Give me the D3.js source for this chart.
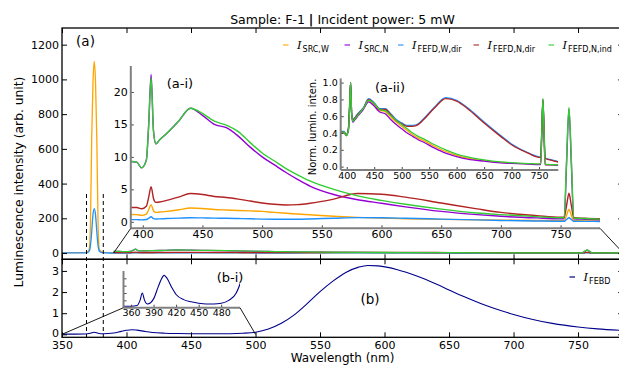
<!DOCTYPE html>
<html><head><meta charset="utf-8">
<script src="https://cdn.jsdelivr.net/npm/d3@7"></script>
<style>
body{margin:0;background:#fff}
text{font-family:"DejaVu Sans",sans-serif;fill:#000}
</style>
</head><body>
<svg id="c" width="619" height="366"></svg>
<script>
// ---------------- DATA ----------------
// laser region (350-390 nm), panel (a)
const laserWl      = [350, 360, 366, 369, 371, 372, 373, 374, 375, 376, 377, 378, 379, 381, 384, 388];
const laserSrcW    = [2, 2, 2.5, 4, 20, 150, 650, 980, 1104, 980, 650, 150, 20, 5, 2, 1.2];
const laserFefdW   = [0.5, 0.5, 0.6, 1.5, 10, 40, 120, 220, 256, 220, 120, 40, 10, 2, 0.6, 0.35];

// 390-785 nm region (arb. unit), panels (a) and (a-i)
const wlA = [390, 395, 399, 403, 405, 407, 409, 411, 414, 420, 430, 440, 450, 460, 470, 480, 490, 500, 510, 520, 530, 540, 560, 580, 600, 620, 650, 680, 700, 730, 750, 753, 755, 757, 759, 761, 770, 785];
const srcW     = [1.13, 1.1, 1.0, 1.2, 1.9, 2.65, 1.7, 1.45, 1.5, 1.6, 1.85, 2.12, 2.05, 1.9, 1.82, 1.75, 1.68, 1.6, 1.45, 1.32, 1.2, 1.08, 0.85, 0.68, 0.56, 0.48, 0.38, 0.3, 0.26, 0.21, 0.19, 0.19, 1.0, 1.9, 1.0, 0.17, 0.15, 0.12];
const srcN     = [9.3, 9.2, 8.3, 9.5, 15, 22.7, 14, 12.0, 12.6, 13.6, 15.5, 17.5, 16.4, 15.0, 14.5, 13.2, 11.5, 10.0, 8.8, 7.6, 6.5, 5.5, 4.2, 3.4, 2.85, 2.3, 1.6, 1.1, 0.85, 0.6, 0.48, 0.48, 9, 17.4, 9, 0.45, 0.4, 0.3];
const fefdWDir = [0.33, 0.33, 0.30, 0.36, 0.55, 0.78, 0.5, 0.44, 0.45, 0.5, 0.56, 0.63, 0.6, 0.56, 0.55, 0.51, 0.46, 0.42, 0.4, 0.39, 0.4, 0.44, 0.55, 0.64, 0.62, 0.55, 0.42, 0.29, 0.21, 0.13, 0.09, 0.09, 0.35, 0.62, 0.35, 0.08, 0.07, 0.05];
const fefdNDir = [2.2, 2.2, 2.0, 2.4, 3.8, 5.4, 3.6, 3.0, 3.05, 3.3, 3.8, 4.35, 4.2, 3.9, 3.75, 3.5, 3.2, 2.9, 2.7, 2.6, 2.65, 2.85, 3.5, 4.35, 4.25, 3.8, 2.9, 2.0, 1.45, 0.95, 0.7, 0.7, 2.5, 4.4, 2.5, 0.65, 0.55, 0.45];
const fefdNInd = [9.3, 9.2, 8.3, 9.5, 15, 22.2, 14, 12.0, 12.6, 13.6, 15.5, 17.5, 16.7, 15.5, 14.9, 13.9, 12.2, 10.6, 9.4, 8.2, 7.2, 6.3, 5.0, 4.0, 3.3, 2.7, 1.95, 1.35, 1.1, 0.8, 0.62, 0.62, 9.5, 17.6, 9.5, 0.58, 0.5, 0.4];

// normalized spectra, panel (a-ii)
const nSrcW     = [0.42, 0.41, 0.38, 0.44, 0.68, 1.0, 0.62, 0.55, 0.56, 0.61, 0.69, 0.785, 0.74, 0.67, 0.655, 0.59, 0.53, 0.48, 0.43, 0.38, 0.34, 0.31, 0.24, 0.18, 0.135, 0.1, 0.072, 0.05, 0.042, 0.034, 0.03, 0.03, 0.4, 0.78, 0.4, 0.025, 0.022, 0.018];
const nSrcN     = [0.41, 0.41, 0.37, 0.43, 0.66, 1.0, 0.62, 0.53, 0.55, 0.60, 0.68, 0.77, 0.72, 0.65, 0.63, 0.56, 0.50, 0.45, 0.40, 0.36, 0.32, 0.29, 0.22, 0.16, 0.12, 0.09, 0.065, 0.045, 0.038, 0.03, 0.025, 0.025, 0.4, 0.78, 0.4, 0.02, 0.02, 0.015];
const nFefdWDir = [0.42, 0.42, 0.38, 0.46, 0.7, 1.0, 0.62, 0.56, 0.58, 0.63, 0.70, 0.81, 0.76, 0.69, 0.69, 0.63, 0.56, 0.52, 0.49, 0.49, 0.51, 0.57, 0.71, 0.82, 0.79, 0.70, 0.53, 0.37, 0.27, 0.165, 0.115, 0.11, 0.45, 0.80, 0.45, 0.1, 0.085, 0.06];
const nFefdNDir = [0.41, 0.41, 0.37, 0.45, 0.7, 1.0, 0.62, 0.55, 0.57, 0.62, 0.69, 0.80, 0.75, 0.68, 0.68, 0.62, 0.55, 0.51, 0.48, 0.48, 0.5, 0.56, 0.70, 0.81, 0.78, 0.69, 0.52, 0.36, 0.26, 0.16, 0.11, 0.11, 0.45, 0.80, 0.45, 0.1, 0.08, 0.055];
const nFefdNInd = [0.41, 0.41, 0.37, 0.43, 0.66, 1.0, 0.62, 0.54, 0.56, 0.61, 0.69, 0.79, 0.75, 0.68, 0.665, 0.61, 0.55, 0.50, 0.45, 0.40, 0.36, 0.33, 0.26, 0.2, 0.15, 0.115, 0.08, 0.056, 0.047, 0.037, 0.032, 0.032, 0.42, 0.81, 0.42, 0.028, 0.025, 0.02];

// panel (b)
const wlB  = [350, 360, 368, 372, 375, 378, 382, 390, 396, 400, 404, 408, 414, 420, 430, 440, 450, 460, 470, 480, 490, 500, 510, 520, 530, 540, 550, 560, 570, 580, 587, 595, 610, 625, 640, 650, 660, 675, 690, 700, 715, 730, 750, 765, 785];
const febd = [0.01, 0.01, 0.015, 0.05, 0.1, 0.05, 0.025, 0.06, 0.14, 0.19, 0.22, 0.2, 0.14, 0.09, 0.055, 0.04, 0.03, 0.025, 0.025, 0.03, 0.05, 0.1, 0.25, 0.52, 0.92, 1.45, 2.02, 2.52, 2.93, 3.18, 3.26, 3.24, 3.06, 2.76, 2.38, 2.1, 1.82, 1.45, 1.13, 0.94, 0.7, 0.52, 0.35, 0.26, 0.18];

const seriesNames  = ["SRC,W", "SRC,N", "FEFD,W,dir", "FEFD,N,dir", "FEFD,N,ind"];
const seriesColors = ["#FFA500", "#9400D3", "#1E90FF", "#B22222", "#32CD32"];
const xTicksMain = [350, 400, 450, 500, 550, 600, 650, 700, 750];
const yTicksA = [0, 200, 400, 600, 800, 1000, 1200];
const yTicksB = [0, 1, 2, 3];
const xTicksAi = [400, 450, 500, 550, 600, 650, 700, 750];
const yTicksAi = [0, 5, 10, 15, 20];
const xTicksAii = [400, 450, 500, 550, 600, 650, 700, 750];
const yTicksAii = [0, 0.2, 0.4, 0.6, 0.8, 1.0];
const xTicksBi = [360, 390, 420, 450, 480];
const yTicksBi = [0.05, 0.1, 0.15, 0.2];
const dashedWl = [369, 382];

// ---------------- DRAW ----------------
const svg = d3.select("#c");
const X0 = 62, X1 = 623.2;
const x = d3.scaleLinear().domain([350, 785]).range([X0, X1]);
const ya = d3.scaleLinear().domain([-36, 1296]).range([259.3, 28]);
const yb = d3.scaleLinear().domain([-0.14, 3.55]).range([337.3, 259.3]);
const fmtInt = d3.format("d");

const defs = svg.append("defs");
function clip(id, x0, y0, w, h){ defs.append("clipPath").attr("id", id).append("rect").attr("x",x0).attr("y",y0).attr("width",w).attr("height",h); }
clip("ca", X0, 28, X1-X0, 259.3-28);
clip("cb", X0, 259.3, X1-X0, 337.3-259.3);

const aSeries = [srcW, srcN, fefdWDir, fefdNDir, fefdNInd];
const nSeries = [nSrcW, nSrcN, nFefdWDir, nFefdNDir, nFefdNInd];

function lineGen(xs, ys){ return d3.line().x(d=>xs(d[0])).y(d=>ys(d[1])).curve(d3.curveMonotoneX); }
function pairs(w, v){ return w.map((d,i)=>[d, v[i]]); }

// panel a lines
const ga = svg.append("g").attr("clip-path","url(#ca)");
const la = lineGen(x, ya);
aSeries.forEach((s,i)=>{
  let pts = pairs(wlA, s);
  if(i===0) pts = pairs(laserWl, laserSrcW).concat(pts);
  if(i===2) pts = pairs(laserWl, laserFefdW).concat(pts);
  ga.append("path").attr("d", la(pts)).attr("fill","none").attr("stroke",seriesColors[i]).attr("stroke-width",1.3);
});
// panel b line
const gb = svg.append("g").attr("clip-path","url(#cb)");
gb.append("path").attr("d", lineGen(x, yb)(pairs(wlB, febd))).attr("fill","none").attr("stroke","#00008B").attr("stroke-width",1.1);

// dashed lines
dashedWl.forEach(w=>{
  svg.append("line").attr("x1",x(w)).attr("x2",x(w)).attr("y1",ya(340)).attr("y2",yb(-0.14))
    .attr("stroke","#000").attr("stroke-width",1).attr("stroke-dasharray","4,3");
});

// frames & axes
function frame(y0, y1){
  svg.append("rect").attr("x",X0).attr("y",y0).attr("width",X1-X0).attr("height",y1-y0)
    .attr("fill","none").attr("stroke","#000").attr("stroke-width",1.3);
}
frame(28, 259.3); frame(259.3, 337.3);

function styleAxis(g, fs){
  g.select(".domain").remove();
  g.selectAll("line").attr("stroke","#000");
  g.selectAll("text").attr("font-size",fs).attr("font-family","DejaVu Sans").attr("fill","#000");
}
// panel a axes
styleAxis(svg.append("g").attr("transform",`translate(${X0},0)`).call(d3.axisLeft(ya).tickValues(yTicksA).tickSize(-5).tickPadding(3).tickFormat(fmtInt)), 11);
styleAxis(svg.append("g").attr("transform",`translate(${X1},0)`).call(d3.axisRight(ya).tickValues(yTicksA).tickSize(-5).tickFormat("")), 11);
styleAxis(svg.append("g").attr("transform",`translate(0,28)`).call(d3.axisTop(x).tickValues(xTicksMain).tickSize(-5).tickFormat("")), 11);
styleAxis(svg.append("g").attr("transform",`translate(0,259.3)`).call(d3.axisBottom(x).tickValues(xTicksMain).tickSize(-5).tickFormat("")), 11);
// panel b axes
const gyb = svg.append("g").attr("transform",`translate(${X0},0)`).call(d3.axisLeft(yb).tickValues(yTicksB).tickSize(-5).tickPadding(3).tickFormat(fmtInt));
styleAxis(gyb, 11);
gyb.selectAll(".tick text").filter(d=>d===0).attr("dy","0.2em");
styleAxis(svg.append("g").attr("transform",`translate(${X1},0)`).call(d3.axisRight(yb).tickValues(yTicksB).tickSize(-5).tickFormat("")), 11);
styleAxis(svg.append("g").attr("transform",`translate(0,259.3)`).call(d3.axisTop(x).tickValues(xTicksMain).tickSize(-5).tickFormat("")), 11);
styleAxis(svg.append("g").attr("transform",`translate(0,337.3)`).call(d3.axisBottom(x).tickValues(xTicksMain).tickSize(-5).tickPadding(4).tickFormat(fmtInt)), 11);

// ---------- insets ----------
function inset(xs, ys, xt, yt, fs, showYLabels, fmtY){
  const [xa, xb] = xs.range(); const [yBot, yTop] = ys.range();
  const g = svg.append("g");
  const gx = g.append("g").attr("transform",`translate(0,${yBot})`).call(d3.axisBottom(xs).tickValues(xt).tickSize(-3).tickPadding(2).tickFormat(fmtInt));
  styleAxis(gx, fs); gx.selectAll("line").attr("stroke","#444");
  const ay = d3.axisLeft(ys).tickValues(yt).tickSize(-3).tickPadding(3);
  if(!showYLabels) ay.tickFormat(""); else if(fmtY) ay.tickFormat(fmtY);
  const gy = g.append("g").attr("transform",`translate(${xa},0)`).call(ay);
  styleAxis(gy, fs); gy.selectAll("line").attr("stroke","#444");
  g.append("line").attr("x1",xa).attr("x2",xa).attr("y1",yTop).attr("y2",yBot).attr("stroke","#808080").attr("stroke-width",2);
  g.append("line").attr("x1",xa).attr("x2",xb).attr("y1",yBot).attr("y2",yBot).attr("stroke","#808080").attr("stroke-width",2);
  return g;
}

// (a-i)
const xai = d3.scaleLinear().domain([390, 783]).range([130.8, 600]);
const yai = d3.scaleLinear().domain([-1, 24]).range([228.3, 66]);
clip("cai", 130.8, 66, 600-130.8, 228.3-66);
const gai = svg.append("g").attr("clip-path","url(#cai)");
aSeries.forEach((s,i)=>{
  gai.append("path").attr("d", lineGen(xai, yai)(pairs(wlA, s))).attr("fill","none").attr("stroke",seriesColors[i]).attr("stroke-width",1.4);
});
inset(xai, yai, xTicksAi, yTicksAi, 11, true, fmtInt);

// (a-ii)
const xaii = d3.scaleLinear().domain([389, 785]).range([340.7, 558.3]);
const yaii = d3.scaleLinear().domain([-0.04, 1.05]).range([170, 78.4]);
clip("caii", 340.7, 78.4, 558.3-340.7, 170-78.4);
const gaii = svg.append("g").attr("clip-path","url(#caii)");
nSeries.forEach((s,i)=>{
  gaii.append("path").attr("d", lineGen(xaii, yaii)(pairs(wlA, s))).attr("fill","none").attr("stroke",seriesColors[i]).attr("stroke-width",1.3);
});
inset(xaii, yaii, xTicksAii, yTicksAii, 9.5, true, d3.format(".1f"));
svg.append("text").attr("transform","translate(316,127) rotate(-90)").attr("text-anchor","middle")
  .attr("font-size",10).text("Norm. lumin. inten.");

// (b-i)
const xbi = d3.scaleLinear().domain([350, 505]).range([123.5, 240]);
const ybi = d3.scaleLinear().domain([0, 0.25]).range([307.7, 271]);
clip("cbi", 123.5, 271, 240-123.5, 307.7-271);
svg.append("g").attr("clip-path","url(#cbi)").append("path")
  .attr("d", lineGen(xbi, ybi)(pairs(wlB, febd))).attr("fill","none").attr("stroke","#00008B").attr("stroke-width",1.1);
inset(xbi, ybi, xTicksBi, yTicksBi, 9.5, false);

// zoom connector lines
function conn(x1,y1,x2,y2){ svg.append("line").attr("x1",x1).attr("y1",y1).attr("x2",x2).attr("y2",y2).attr("stroke","#000").attr("stroke-width",0.9); }
conn(x(390), ya(0), 130.8, 228.3);
conn(x(785), ya(0), 600, 228.3);
conn(x(350), yb(0), 123.5, 307.7);
conn(x(500), yb(0), 240, 307.7);

// panel labels
function lbl(t, cx, cy, fs){ svg.append("text").attr("x",cx).attr("y",cy).attr("text-anchor","middle").attr("dominant-baseline","central").attr("font-size",fs).text(t); }
lbl("(a)", 85.5, 41, 13.5);
lbl("(a-i)", 180, 83, 13);
lbl("(a-ii)", 390, 87, 13);
lbl("(b-i)", 230, 277, 13);
lbl("(b)", 370, 299, 13.5);

// legend (a)
const legX = [283, 344.5, 398, 473.5, 548.5];
seriesNames.forEach((n,i)=>{
  svg.append("line").attr("x1",legX[i]).attr("x2",legX[i]+5.5).attr("y1",45).attr("y2",45)
    .attr("stroke",seriesColors[i]).attr("stroke-opacity",0.55).attr("stroke-width",2);
  const t = svg.append("text").attr("x",legX[i]+14).attr("y",49).attr("font-size",11.5);
  t.append("tspan").attr("font-style","italic").attr("font-family","DejaVu Serif").text("I");
  t.append("tspan").attr("font-size",8).attr("dy",3).attr("dx",1).text(n);
});
// legend (b)
svg.append("line").attr("x1",569.5).attr("x2",575).attr("y1",277).attr("y2",277).attr("stroke","#00008B").attr("stroke-opacity",0.8).attr("stroke-width",1.5);
{
  const t = svg.append("text").attr("x",583.5).attr("y",281).attr("font-size",11.5);
  t.append("tspan").attr("font-style","italic").attr("font-family","DejaVu Serif").text("I");
  t.append("tspan").attr("font-size",8).attr("dy",3).attr("dx",1).text("FEBD");
}

// titles
const title = svg.append("text").attr("x",342.5).attr("y",24).attr("text-anchor","middle").attr("font-size",12.5);
title.append("tspan").text("Sample: F-1 ");
title.append("tspan").attr("font-weight","bold").text("|");
title.append("tspan").text(" Incident power: 5 mW");
svg.append("text").attr("x",342.5).attr("y",362).attr("text-anchor","middle").attr("font-size",12).text("Wavelength (nm)");
svg.append("text").attr("transform","translate(23,182) rotate(-90)").attr("text-anchor","middle").attr("font-size",12.3).text("Luminescence intensity (arb. unit)");
</script>
</body></html>
